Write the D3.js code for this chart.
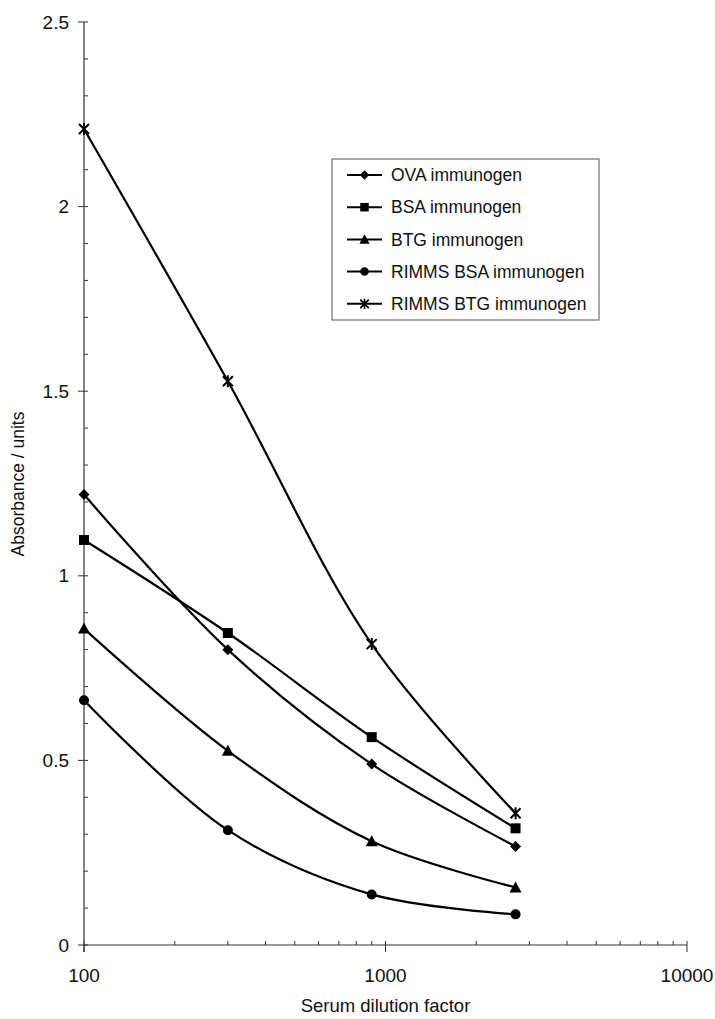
<!DOCTYPE html>
<html lang="en">

<head>
	<meta charset="UTF-8">
	<title>Absorbance vs serum dilution</title>
	<script src="https://cdnjs.cloudflare.com/ajax/libs/d3/7.8.5/d3.min.js"></script>
	<style>
		body { margin: 0; background: #fff; }
		text { font-family: 'Liberation Sans', Arial, sans-serif; fill: #111; }
	</style>
</head>

<body>
	<svg id="viz"></svg>

	<script>
		// Data ---
		const dilutions = [100, 300, 900, 2700];
		const seriesNames = ['OVA immunogen', 'BSA immunogen', 'BTG immunogen', 'RIMMS BSA immunogen', 'RIMMS BTG immunogen'];
		const seriesMarkers = ['diamond', 'square', 'triangle', 'circle', 'star'];
		const ova = [1.22, 0.80, 0.49, 0.267];
		const bsa = [1.097, 0.845, 0.563, 0.316];
		const btg = [0.857, 0.526, 0.281, 0.156];
		const rimmsBsa = [0.663, 0.311, 0.137, 0.083];
		const rimmsBtg = [2.21, 1.527, 0.815, 0.357];
		const yTicks = [0, 0.5, 1, 1.5, 2, 2.5];
		const xTicks = [100, 1000, 10000];

		// Chart container dimensions ---
		const svgWidth = 715, svgHeight = 1019;
		const plot = { left: 84, right: 687, top: 22, bottom: 945 };

		const svg = d3.select('#viz')
			.attr('width', svgWidth)
			.attr('height', svgHeight);

		// Scales ---
		const x = d3.scaleLog().domain([100, 10000]).range([plot.left, plot.right]);
		const y = d3.scaleLinear().domain([0, 2.5]).range([plot.bottom, plot.top]);

		// Axes ---
		const axisColor = '#333';
		const yAxis = svg.append('g');
		yAxis.append('line')
			.attr('x1', plot.left).attr('x2', plot.left)
			.attr('y1', y(2.5)).attr('y2', plot.bottom + 7)
			.attr('stroke', axisColor).attr('stroke-width', 1.2);
		yAxis.selectAll('line.minor')
			.data(d3.range(0, 26).map(i => i / 10).filter(v => Math.round(v * 10) % 5 !== 0))
			.join('line')
			.attr('class', 'minor')
			.attr('x1', plot.left).attr('x2', plot.left + 4)
			.attr('y1', d => y(d)).attr('y2', d => y(d))
			.attr('stroke', axisColor);
		yAxis.selectAll('line.major')
			.data(yTicks)
			.join('line')
			.attr('class', 'major')
			.attr('x1', plot.left - 6).attr('x2', plot.left + 4)
			.attr('y1', d => y(d)).attr('y2', d => y(d))
			.attr('stroke', axisColor);
		yAxis.selectAll('text')
			.data(yTicks)
			.join('text')
			.attr('x', 69)
			.attr('y', d => y(d))
			.attr('dy', '0.35em')
			.attr('text-anchor', 'end')
			.style('font-size', '19px')
			.text(d => d);

		const xAxis = svg.append('g');
		xAxis.append('line')
			.attr('x1', plot.left).attr('x2', plot.right)
			.attr('y1', plot.bottom).attr('y2', plot.bottom)
			.attr('stroke', axisColor).attr('stroke-width', 1.2);
		xAxis.selectAll('line.minor')
			.data(x.ticks().filter(v => !xTicks.includes(v)))
			.join('line')
			.attr('class', 'minor')
			.attr('x1', d => x(d)).attr('x2', d => x(d))
			.attr('y1', plot.bottom - 4).attr('y2', plot.bottom)
			.attr('stroke', axisColor);
		xAxis.selectAll('line.major')
			.data(xTicks)
			.join('line')
			.attr('class', 'major')
			.attr('x1', d => x(d)).attr('x2', d => x(d))
			.attr('y1', plot.bottom - 4).attr('y2', plot.bottom + 7)
			.attr('stroke', axisColor);
		xAxis.selectAll('text')
			.data(xTicks)
			.join('text')
			.attr('x', d => x(d))
			.attr('y', 982)
			.attr('text-anchor', 'middle')
			.style('font-size', '19px')
			.text(d => d);

		// Axis titles ---
		svg.append('text')
			.attr('x', (plot.left + plot.right) / 2)
			.attr('y', 1012)
			.attr('text-anchor', 'middle')
			.style('font-size', '18.5px')
			.text('Serum dilution factor');
		svg.append('text')
			.attr('transform', 'translate(24, 484) rotate(-90)')
			.attr('text-anchor', 'middle')
			.style('font-size', '17.5px')
			.text('Absorbance / units');

		// Markers ---
		function drawMarker(g, type) {
			if (type === 'diamond') {
				g.append('path').attr('d', 'M0,-5.5 L5.5,0 L0,5.5 L-5.5,0 Z').attr('fill', '#000');
			} else if (type === 'square') {
				g.append('rect').attr('x', -5).attr('y', -5).attr('width', 10).attr('height', 10).attr('fill', '#000');
			} else if (type === 'triangle') {
				g.append('path').attr('d', 'M0,-6 L6,5 L-6,5 Z').attr('fill', '#000');
			} else if (type === 'circle') {
				g.append('circle').attr('r', 5).attr('fill', '#000');
			} else {
				g.append('path').attr('d', 'M-5,-5 L5,5 M-5,5 L5,-5 M0,-6 L0,6')
					.attr('stroke', '#000').attr('stroke-width', 2).attr('fill', 'none');
			}
		}

		// Series ---
		const allSeries = [ova, bsa, btg, rimmsBsa, rimmsBtg].map((vals, i) => ({
			name: seriesNames[i],
			marker: seriesMarkers[i],
			points: vals.map((v, j) => ({ x: dilutions[j], y: v }))
		}));

		const line = d3.line()
			.x(d => x(d.x))
			.y(d => y(d.y))
			.curve(d3.curveCatmullRom.alpha(0.5));

		const seriesG = svg.selectAll('g.series')
			.data(allSeries)
			.join('g')
			.attr('class', 'series');
		seriesG.append('path')
			.attr('d', d => line(d.points))
			.attr('fill', 'none')
			.attr('stroke', '#000')
			.attr('stroke-width', 2.2);
		seriesG.each(function (s) {
			d3.select(this).selectAll('g.pt')
				.data(s.points)
				.join('g')
				.attr('class', 'pt')
				.attr('transform', d => `translate(${x(d.x)}, ${y(d.y)})`)
				.each(function () { drawMarker(d3.select(this), s.marker); });
		});

		// Legend ---
		const legend = svg.append('g');
		legend.append('rect')
			.attr('x', 332).attr('y', 159)
			.attr('width', 267).attr('height', 161)
			.attr('fill', '#fff')
			.attr('stroke', '#555')
			.attr('stroke-width', 1);
		const legendItems = legend.selectAll('g.item')
			.data(allSeries)
			.join('g')
			.attr('class', 'item')
			.attr('transform', (d, i) => `translate(0, ${175 + i * 32.2})`);
		legendItems.append('line')
			.attr('x1', 347).attr('x2', 382)
			.attr('stroke', '#000').attr('stroke-width', 2);
		legendItems.each(function (d) {
			const g = d3.select(this).append('g').attr('transform', 'translate(364.5, 0) scale(0.85)');
			drawMarker(g, d.marker);
		});
		legendItems.append('text')
			.attr('x', 391)
			.attr('dy', '0.35em')
			.style('font-size', '17.5px')
			.text(d => d.name);
	</script>
</body>

</html>
